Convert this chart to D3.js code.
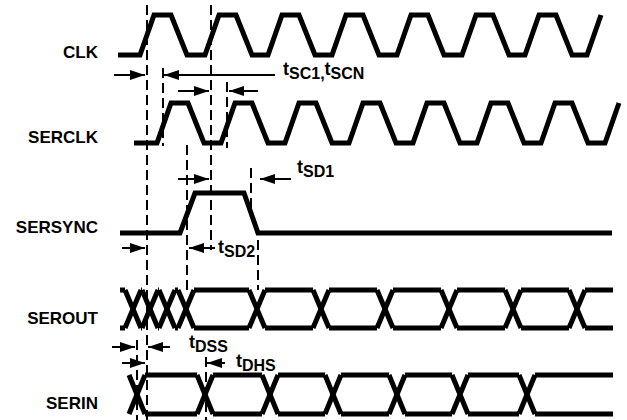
<!DOCTYPE html>
<html lang="en">
<head>
<meta charset="utf-8">
<title>Serial Port Timing</title>
<script src="https://cdn.jsdelivr.net/npm/d3@7"></script>
<style>
  body { margin: 0; background: #fff; }
  text { font-family: "Liberation Sans", Arial, sans-serif; font-weight: bold; fill: #000; }
</style>
</head>
<body>
<svg class="chart" width="627" height="420"></svg>
<script>
  var width = 627, height = 420;

  // signal names, top to bottom
  var signals = ["CLK", "SERCLK", "SERSYNC", "SEROUT", "SERIN"];

  // clock waveforms: first low point, then the start of every rising edge
  var clkStart = 118;
  var clkRise = [140, 205, 268, 332, 397, 462, 525, 587];
  var serclkStart = 134;
  var serclkRise = [157, 221, 285, 349, 413, 477, 541, 605];

  // SERSYNC: [time, level]
  var sersync = [[120, 0], [180, 0], [195, 1], [244, 1], [258, 0], [612, 0]];

  // data lines: crossing points and span
  var seroutCross = [133, 150, 167, 186, 257, 321, 385, 449, 513, 577];
  var seroutSpan = [120, 613];
  var serinCross = [137, 205, 270, 333, 397, 460, 527];
  var serinSpan = [null, 613];

  // dashed reference lines: [time, y from, y to]
  var guides = [[147, 5, 420], [211, 5, 250], [163, 68, 146], [227, 82, 148],
                [187, 145, 290], [251, 168, 210], [258, 240, 290],
                [137, 340, 420], [206, 357, 420]];

  // timing arrows: [tail time, head time, y]
  var arrows = [[114, 145, 75], [275, 164, 75],
                [178, 209, 91], [258, 229, 91],
                [178, 209, 179], [291, 260, 179],
                [122, 145, 248], [215, 189, 248],
                [112, 135, 347], [170, 148, 347],
                [122, 145, 363], [225, 207, 363]];

  // timing parameter labels: [time, y, main/sub parts]
  var params = [[283, 75, ["t", "SC1,", "t", "SCN"]],
                [297, 173, ["t", "SD1"]],
                [218, 253, ["t", "SD2"]],
                [189, 348, ["t", "DSS"]],
                [236, 367, ["t", "DHS"]]];

  // layout
  var rows = {
    CLK:     { hi: 15,  lo: 55,  label: 58 },
    SERCLK:  { hi: 103, lo: 143, label: 143 },
    SERSYNC: { hi: 193, lo: 233, label: 233 },
    SEROUT:  { hi: 290, lo: 328, label: 324 },
    SERIN:   { hi: 375, lo: 414, label: 409 }
  };
  var riseW = 14, holdW = 17, fallW = 16, half = 8;

  var x = d3.scaleLinear().domain([0, width]).range([0, width]);
  function level(name) {
    return d3.scaleLinear().domain([0, 1]).range([rows[name].lo, rows[name].hi]);
  }

  var svg = d3.select("svg.chart");

  var defs = svg.append("defs");
  defs.append("marker")
      .attr("id", "head")
      .attr("markerUnits", "userSpaceOnUse")
      .attr("viewBox", "0 0 15 10")
      .attr("refX", 15).attr("refY", 5)
      .attr("markerWidth", 15).attr("markerHeight", 10)
      .attr("orient", "auto")
    .append("path")
      .attr("d", "M0,0L15,5L0,10Z")
      .attr("fill", "#000");

  // guides
  svg.selectAll("line.guide")
    .data(guides)
    .enter().append("line")
      .attr("class", "guide")
      .attr("x1", function(d) { return x(d[0]); })
      .attr("x2", function(d) { return x(d[0]); })
      .attr("y1", function(d) { return d[1]; })
      .attr("y2", function(d) { return d[2]; })
      .attr("stroke", "#000")
      .attr("stroke-width", 2)
      .attr("stroke-dasharray", "10,5");

  // labels
  svg.selectAll("text.sig")
    .data(signals)
    .enter().append("text")
      .attr("class", "sig")
      .attr("x", 98)
      .attr("y", function(d) { return rows[d].label; })
      .attr("text-anchor", "end")
      .style("font-size", "17px")
      .text(function(d) { return d; });

  var line = d3.line()
               .x(function(d) { return x(d[0]); })
               .y(function(d) { return d[1]; });

  function clockPoints(name, start, rises) {
    var y = level(name), pts = [[start, y(0)]];
    rises.forEach(function(r, i) {
      pts.push([r, y(0)], [r + riseW, y(1)]);
      if (i < rises.length - 1) {
        pts.push([r + riseW + holdW, y(1)], [r + riseW + holdW + fallW, y(0)]);
      }
    });
    return pts;
  }

  var wave = svg.append("g")
      .attr("fill", "none")
      .attr("stroke", "#000")
      .attr("stroke-width", 5)
      .attr("stroke-linejoin", "miter");

  wave.append("path").datum(clockPoints("CLK", clkStart, clkRise)).attr("d", line);
  wave.append("path").datum(clockPoints("SERCLK", serclkStart, serclkRise)).attr("d", line);

  var ys = level("SERSYNC");
  wave.append("path")
      .datum(sersync.map(function(d) { return [d[0], ys(d[1])]; }))
      .attr("d", line);

  function busSegments(name, cross, span) {
    var y = level(name), hi = y(1), lo = y(0), segs = [];
    if (span[0] != null) {
      segs.push([[span[0], hi], [cross[0] - half, hi]]);
      segs.push([[span[0], lo], [cross[0] - half, lo]]);
    }
    cross.forEach(function(c, i) {
      segs.push([[c - half, hi], [c + half, lo]]);
      segs.push([[c - half, lo], [c + half, hi]]);
      var next = i < cross.length - 1 ? cross[i + 1] - half : span[1];
      if (next > c + half) {
        segs.push([[c + half, hi], [next, hi]]);
        segs.push([[c + half, lo], [next, lo]]);
      }
    });
    return segs;
  }

  wave.selectAll("path.serout")
    .data(busSegments("SEROUT", seroutCross, seroutSpan))
    .enter().append("path").attr("class", "serout").attr("d", line);
  wave.selectAll("path.serin")
    .data(busSegments("SERIN", serinCross, serinSpan))
    .enter().append("path").attr("class", "serin").attr("d", line);

  // arrows
  svg.selectAll("line.arrow")
    .data(arrows)
    .enter().append("line")
      .attr("class", "arrow")
      .attr("x1", function(d) { return x(d[0]); })
      .attr("x2", function(d) { return x(d[1]); })
      .attr("y1", function(d) { return d[2]; })
      .attr("y2", function(d) { return d[2]; })
      .attr("stroke", "#000")
      .attr("stroke-width", 2)
      .attr("marker-end", "url(#head)");

  // parameter labels
  var pl = svg.selectAll("text.param")
    .data(params)
    .enter().append("text")
      .attr("class", "param")
      .attr("x", function(d) { return x(d[0]); })
      .attr("y", function(d) { return d[1]; });

  pl.each(function(d) {
    var t = d3.select(this);
    d[2].forEach(function(p, i) {
      var sub = i % 2 === 1;
      t.append("tspan")
        .attr("dy", i === 0 ? 0 : (sub ? 4 : -4))
        .style("font-size", sub ? "16px" : "18px")
        .text(p);
    });
  });
</script>
</body>
</html>
